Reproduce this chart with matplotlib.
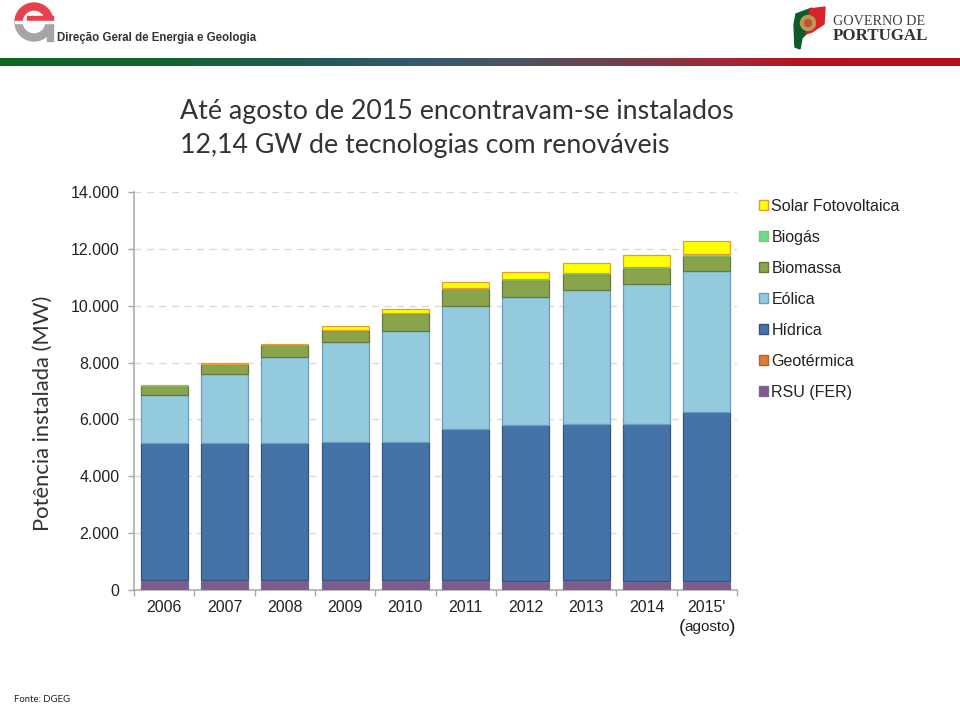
import numpy as np
import matplotlib
matplotlib.use("Agg")
import matplotlib.pyplot as plt
from matplotlib.colors import LinearSegmentedColormap
from matplotlib.patches import Wedge, Rectangle, Polygon, Patch, Circle

years = ["2006", "2007", "2008", "2009", "2010", "2011", "2012", "2013", "2014", "2015'"]
rsu = [320, 310, 310, 310, 310, 320, 280, 320, 280, 290]
geotermica = [25, 25, 25, 25, 25, 25, 25, 25, 25, 25]
hidrica = [4825, 4825, 4825, 4860, 4875, 5305, 5505, 5500, 5525, 5955]
eolica = [1673, 2437, 3034, 3542, 3896, 4350, 4506, 4700, 4918, 4959]
biomassa = [350, 358, 438, 411, 624, 587, 587, 568, 562, 526]
biogas = [5, 5, 8, 12, 20, 25, 30, 50, 55, 80]
solar = [13, 23, 10, 139, 128, 206, 250, 322, 435, 447]
yticks = [0, 2000, 4000, 6000, 8000, 10000, 12000, 14000]
ylabels = ["0", "2.000", "4.000", "6.000", "8.000", "10.000", "12.000", "14.000"]

series = [
    ("RSU (FER)", rsu, "#7D5A8F", "#7A6A90"),
    ("Geotérmica", geotermica, "#E07B39", "#B0642E"),
    ("Hídrica", hidrica, "#4573A7", "#35557E"),
    ("Eólica", eolica, "#93CADD", "#6C9CC4"),
    ("Biomassa", biomassa, "#8AA44D", "#64793E"),
    ("Biogás", biogas, "#66E08A", "#8CC070"),
    ("Solar Fotovoltaica", solar, "#FFFF00", "#E0A030"),
]

W, H = 960, 704
plt.rcParams["font.family"] = ["Liberation Sans", "DejaVu Sans"]
fig = plt.figure(figsize=(W / 100, H / 100), dpi=100)

ax = fig.add_axes([134 / W, 1 - 590 / H, (737 - 134) / W, (590 - 192) / H])
x = np.arange(len(years))
bottom = np.zeros(len(years))
handles = []
for name, vals, fc, ec in series:
    lw = {"Geotérmica": 0, "Biogás": 0.4}.get(name, 0.9)
    ax.bar(x, vals, bottom=bottom, width=0.78, color=fc, edgecolor=ec, linewidth=lw, zorder=3)
    bottom += np.array(vals)
    handles.append(Patch(facecolor=fc, edgecolor=ec, linewidth=1.0, label=name))

ax.set_xlim(-0.5, 9.5)
ax.set_ylim(0, 14000)
ax.set_yticks(yticks, ylabels, fontsize=11.5, color="#222222")
ax.set_xticks(np.arange(-0.5, 10, 1), minor=False, labels=[])
for xi, yr in zip(x, years):
    ax.annotate(yr, (xi, 0), xytext=(0, -18), textcoords="offset pixels", ha="center", va="center",
                fontsize=11.5, color="#222222", annotation_clip=False)
ax.annotate("agosto", (9, 0), xytext=(0, -37), textcoords="offset pixels", ha="center", va="center",
            fontsize=11, color="#222222", annotation_clip=False)
ax.annotate("(", (9, 0), xytext=(-25, -37), textcoords="offset pixels", ha="center", va="center",
            fontsize=14, color="#222222", annotation_clip=False)
ax.annotate(")", (9, 0), xytext=(25, -37), textcoords="offset pixels", ha="center", va="center",
            fontsize=14, color="#222222", annotation_clip=False)
ax.grid(axis="y", color="#DCDAD2", linestyle=(0, (5, 4)), linewidth=1.0, zorder=0)
ax.set_axisbelow(True)
for s in ("top", "right"):
    ax.spines[s].set_visible(False)
for s in ("left", "bottom"):
    ax.spines[s].set_color("#A8A8A8")
    ax.spines[s].set_linewidth(1.1)
ax.tick_params(axis="both", color="#A8A8A8", length=4.5, width=1.0, pad=6)

leg = fig.legend(handles=handles[::-1], loc="upper left", bbox_to_anchor=(758.5 / W, 1 - 199 / H),
                 frameon=False, fontsize=11.5, handlelength=0.6, handleheight=0.6,
                 handletextpad=0.2, labelspacing=1.0, borderpad=0, borderaxespad=0,
                 labelcolor="#222222")

# page furniture, in pixel coordinates of the figure
bg = fig.add_axes([0, 0, 1, 1], zorder=-1)
bg.set_xlim(0, W)
bg.set_ylim(H, 0)
bg.axis("off")

stops = [(0, "#0B6A22"), (150 / 960, "#10662C"), (300 / 960, "#1F5A52"), (420 / 960, "#35596E"),
         (520 / 960, "#4E5264"), (620 / 960, "#723F4B"), (720 / 960, "#A02A38"),
         (800 / 960, "#B2161F"), (1, "#B5121C")]
cmap = LinearSegmentedColormap.from_list("bar", stops)
grad = np.linspace(0, 1, 512)[None, :]
bg.imshow(grad, extent=(0, W, 66, 58), cmap=cmap, aspect="auto", zorder=1)
bg.set_xlim(0, W)
bg.set_ylim(H, 0)

# DGEG mark
cx, cy = 34, 22
bg.add_patch(Wedge((cx, cy), 19, 180, 360, width=7, color="#E8404E", zorder=2))
bg.add_patch(Rectangle((27, 16), 26, 5, color="#E8404E", zorder=2))
bg.add_patch(Wedge((cx, cy), 19, 0, 180, width=7, color="#A5A5A5", zorder=2))
bg.add_patch(Rectangle((47, 23), 6, 18, color="#A5A5A5", zorder=2))
bg.add_patch(Rectangle((15, 21), 38, 2, color="white", zorder=3))
bg.text(57, 37.5, "Direção Geral de Energia e Geologia", fontsize=8.3, fontweight="bold",
        color="#333333", va="center", ha="left", zorder=4)

# government mark
bg.add_patch(Polygon([(796, 14), (812, 8), (810, 30), (802, 38), (800, 49), (795, 47), (794, 25)],
                     color="#0F5A2A", zorder=2))
bg.add_patch(Polygon([(810, 9), (825, 7), (824, 24), (812, 32), (806, 34)], color="#D8232A", zorder=2))
bg.add_patch(Circle((808, 23), 7.5, color="#B89A50", zorder=3))
bg.add_patch(Circle((808, 23), 3.5, color="#C0503A", zorder=4))
bg.text(833, 21.5, "GOVERNO DE", fontsize=10.2, color="#444444", va="center", ha="left",
        family="Liberation Serif", zorder=4)
bg.text(833, 36, "PORTUGAL", fontsize=12.2, color="#333333", va="center", ha="left",
        family="Liberation Serif", fontweight="bold", zorder=4)

bg.text(180, 111.5, "Até agosto de 2015 encontravam-se instalados", fontsize=19.25, color="#333333",
        va="center", ha="left", family="Lato")
bg.text(180, 145.5, "12,14 GW de tecnologias com renováveis", fontsize=19.25, color="#333333",
        va="center", ha="left", family="Lato")
bg.text(43, 413.5, "Potência instalada (MW)", fontsize=15.8, color="#333333", rotation=90,
        va="center", ha="center", family="Lato")
bg.text(14, 699, "Fonte: DGEG", fontsize=6.8, color="#222222", va="center", ha="left", family="Lato")

fig.savefig("out.png", dpi=100)
